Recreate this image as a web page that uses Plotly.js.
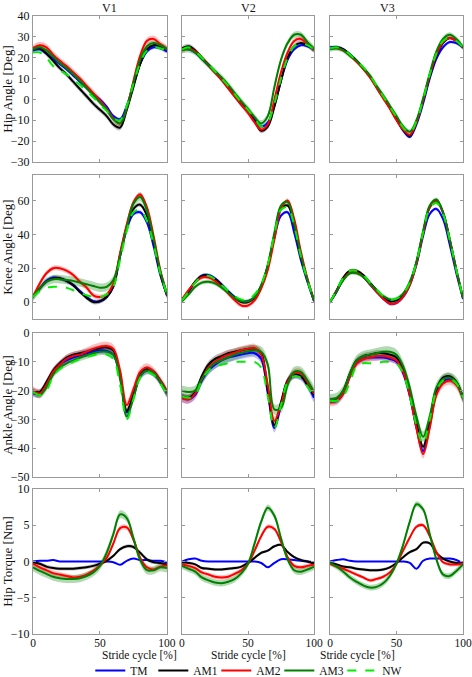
<!DOCTYPE html>
<html><head><meta charset="utf-8">
<script src="https://cdn.plot.ly/plotly-3.0.1.min.js"></script>
<style>html,body{margin:0;padding:0;background:#fff}#chart{width:472px;height:677px}</style>
</head><body><div id="chart"></div>
<script>
const stride = [0,5,10,15,20,25,30,35,40,45,50,55,60,65,70,75,80,85,90,95,100];
const seriesNames = ['TM','AM1','AM2','AM3','NW'];
const conditions = ['V1','V2','V3'];

// Hip angle [Deg]
const hip_V1_TM  = [23.5,24,22,19.5,17,14.5,11.5,8.5,5.5,2.5,0,-3.5,-8,-9.5,-3,7,17,23,25,24.5,23];
const hip_V1_AM1 = [24,24.5,22,18.5,15,12,8.5,5,1.5,-2,-5,-8,-12,-13.5,-5,6,17,24,26,25.5,24];
const hip_V1_AM2 = [24.5,26,25,21.5,18.5,16,13,10,6.5,3,-0.5,-4.5,-9,-11.5,-4,9,21,28,29,26.5,24];
const hip_V1_AM3 = [24,25,23.5,20.5,17.5,15,12,9,5.5,2,-1.5,-5,-9.5,-11.5,-4,8,19,25.5,27,26,24];
const hip_V1_NW  = [22.5,22.5,20,16,14,12,9.5,7,4,1,-2.5,-5.5,-9,-10,-3,7.5,17.5,23.5,25,24.5,23.5];

const hip_V2_TM  = [24,24,22.5,19.5,16.5,13.5,10,6,2,-2,-5.5,-9.5,-13,-11,-3,9,19,24,26,25.5,24];
const hip_V2_AM1 = [24.5,25.5,23.5,20,16.5,13,9.5,5.5,1.5,-2.5,-6,-10.5,-15,-13,-3.5,9,20,25.5,27,26,24];
const hip_V2_AM2 = [23.5,24.5,23,20,16.5,13,9.5,5.5,1.5,-2.5,-6.5,-11,-14.5,-12,0,13,22.5,28,29,26.5,24];
const hip_V2_AM3 = [23.5,24,22.5,19.5,16.5,13.5,10.5,7,3,-1,-4.5,-8.5,-11.5,-8,6,19,27,31,31,27.5,24];
const hip_V2_NW  = [24,25,23,20,17,13.5,10,6.5,2.5,-1.5,-5,-9,-13,-11,-2,10,20,25.5,27,26,24];

const hip_V3_TM  = [25,25,24,21.5,18.5,15,11,6,1,-4,-9.5,-15,-18,-12,-2,10,19.5,25,27.5,27,25];
const hip_V3_AM1 = [24.5,25,24,21.5,18.5,15,11,6,1,-4,-9.5,-14.5,-17.5,-11,-0.5,11,21,27,29.5,28,25];
const hip_V3_AM2 = [24.5,24.5,23.5,21,18,14.5,10.5,5.5,0.5,-4.5,-10,-14.5,-17,-11,-0.5,11.5,21.5,27.5,29.5,28,25];
const hip_V3_AM3 = [24,24.5,23.5,21,18.5,15,11.5,6.5,2,-3,-8,-13,-15.5,-10,0.5,12.5,23,29,31,29,25];
const hip_V3_NW  = [24.5,25,24,21.5,18.5,15.5,11.5,6.5,1.5,-3.5,-8.5,-13.5,-16,-10.5,0,12,22,28,29.5,28,25];

// Knee angle [Deg]
const knee_V1_TM  = [3,8,12.5,14.5,14,12.5,10,6.5,3,0.5,0.5,3,9,27,43,52,53,47,33,16,4];
const knee_V1_AM1 = [3,8,12,14,14,12.5,10,6,2.5,0,0.5,3,9.5,28,44.5,55,57.5,51,36,17,4];
const knee_V1_AM2 = [3,11,17,20,20,18.5,16,12,8.5,4,3,4.5,11,29,46,59,63.5,56,39,19,4.5];
const knee_V1_AM3 = [3,8,12,13.5,13.5,13,12.5,11.5,10.5,9.5,8.5,9,13,27,44,58,62,54,37,18,4.5];
const knee_V1_NW  = [3,6.5,8.5,9,9,8.5,7,5.5,4,3,3,4.5,9,25,42,53,54.5,48,34,17,4.5];

const knee_V2_TM  = [1,6,12,15.5,16,14,10.5,6.5,3,0.5,0.5,3,9.5,21,38,51,53,41,25,12,0.5];
const knee_V2_AM1 = [1.5,6.5,12,15.5,15.5,13.5,10,6,2.5,0,0,2.5,9.5,21.5,39.5,55,57,45,27,13,1];
const knee_V2_AM2 = [1.5,7,11.5,14.5,14.5,12.5,9,5,1,-2,-2,1,8,19,37,55,60,49,30,14,1];
const knee_V2_AM3 = [0.5,4.5,9,11.5,12,11,8.5,5.5,2.5,0.5,0.5,3,10,22,41,57,59,46,28,13,1];
const knee_V2_NW  = [1,6,11.5,15,15.5,13.5,10,6.5,3.5,1.5,1.5,4.5,10.5,22,40,54.5,56,45,27,13,1];

const knee_V3_TM  = [0,6,13.5,17.5,18,15,10.5,6,2,-1,-0.5,3,10,22,39,52,55,49,34,17,2];
const knee_V3_AM1 = [0,7,14.5,18.5,18.5,16,11.5,7,3,0.5,1,4,11,23.5,41,56,60,53,37,19,2.5];
const knee_V3_AM2 = [0,6.5,13.5,17.5,17.5,15,10.5,6,2,-1,-0.5,3,10,22.5,40.5,56,59.5,52.5,37,19,2.5];
const knee_V3_AM3 = [0,6.5,13,17,17,15,11,7,3.5,1.5,2,5,12,24,42,57,60.5,53,37,19,2.5];
const knee_V3_NW  = [0,7,14.5,18.5,18.5,16,11.5,7.5,3.5,1.5,2,5,11.5,23.5,41,55.5,58.5,52,37,19,2.5];

// Ankle angle [Deg]
const ankle_V1_TM  = [-21,-21,-18,-13.5,-11,-9.5,-8.5,-7.8,-7,-6.5,-6,-6.2,-7.5,-15,-27.5,-22,-15,-13,-14,-17,-21];
const ankle_V1_AM1 = [-20,-20.5,-17,-13,-10.5,-8.5,-7.5,-7,-6.5,-5.8,-5.2,-5,-6,-15,-27,-21,-14.5,-12.5,-13.5,-16.5,-20.5];
const ankle_V1_AM2 = [-20,-21,-18,-13.5,-11,-9,-8,-7.5,-6.5,-5.5,-4.8,-4.5,-5.5,-13,-25,-19.5,-13.5,-12,-13.5,-16.5,-20.5];
const ankle_V1_AM3 = [-20.5,-21.5,-19,-14.5,-12,-10.5,-9.5,-8.5,-7.8,-7,-6.5,-6.5,-7.5,-16,-29,-22.5,-15,-13,-14,-17,-21];
const ankle_V1_NW  = [-20.5,-21.5,-20,-15,-12.5,-11,-10,-9,-8.3,-7.7,-7.3,-7.5,-9,-18,-30,-23,-15.5,-13.5,-14.5,-17.5,-21.5];

const ankle_V2_TM  = [-22.5,-23,-21.5,-16.5,-13,-11,-9.5,-8.5,-8,-7.5,-7,-7,-9,-21,-33,-25,-17,-14.5,-15,-18,-22.5];
const ankle_V2_AM1 = [-22,-22.5,-20.5,-15,-11,-9,-8,-7,-6.5,-6,-5.5,-5.5,-7,-20,-32,-24,-16.5,-14.5,-15,-18,-21.5];
const ankle_V2_AM2 = [-22.5,-23,-21,-16,-12,-10,-8.5,-7.5,-6.8,-6,-5.5,-5.2,-7.5,-18,-30.5,-25,-17,-14,-14,-17,-21];
const ankle_V2_AM3 = [-20,-20.5,-20,-16,-12.5,-10.5,-9.5,-8.5,-7.5,-6.8,-6.3,-6,-6.5,-11,-26.5,-26,-18,-13.5,-13.5,-16.5,-20.5];
const ankle_V2_NW  = [-22,-22.5,-21.5,-16.5,-13,-11.5,-11,-10.5,-10,-10,-10,-10,-12,-22,-33,-25,-17,-15,-15.5,-18.5,-22];

const ankle_V3_TM  = [-23.5,-23.5,-21,-15,-10.5,-9,-8.5,-8.5,-8.5,-9,-10,-14,-22,-33,-41,-32,-21,-17,-16,-17.5,-22.5];
const ankle_V3_AM1 = [-23.5,-23,-20,-14,-9.5,-8,-7.5,-7,-7,-7.5,-8.5,-12.5,-20,-31,-39.5,-30,-19.5,-15.5,-15,-17,-22.5];
const ankle_V3_AM2 = [-24,-23.5,-21,-15,-10.5,-9,-8.5,-8,-8,-8.5,-9.5,-13.5,-21.5,-33,-42,-33,-21.5,-17.5,-16.5,-18,-22.5];
const ankle_V3_AM3 = [-23,-22.5,-20,-14,-9.5,-8,-7.5,-7,-6.5,-6.5,-7.5,-11.5,-19,-29,-36,-29,-19,-16,-15.5,-17,-22.5];
const ankle_V3_NW  = [-23.5,-23.5,-22,-17,-11.5,-10.5,-10.5,-10.5,-10,-10,-10.5,-14,-22,-32,-38.5,-30,-20,-16.5,-16,-17.5,-22.5];

// Hip torque [Nm] (no NW: device not worn)
const torque_V1_TM  = [0,0.1,0.1,0.2,0,0,0,0,0,0,0,0,-0.1,-0.45,0.1,0.4,0.2,0.2,0.1,0.1,-0.1];
const torque_V1_AM1 = [-0.1,-0.3,-0.7,-0.9,-1,-1,-1,-0.9,-0.8,-0.6,-0.3,0.1,0.8,1.7,2.1,2,1.2,0.3,-0.1,-0.2,-0.4];
const torque_V1_AM2 = [-0.3,-0.8,-1.2,-1.6,-1.8,-2,-2.2,-2.1,-1.8,-1.3,-0.5,0.5,2.5,4.6,4.7,3,0.5,-0.8,-1.1,-0.7,-0.5];
const torque_V1_AM3 = [-0.8,-1.3,-1.7,-2.1,-2.3,-2.4,-2.4,-2.3,-2,-1.5,-0.6,1.2,3.8,6.5,6,3.2,0.2,-1.2,-1.2,-0.8,-0.9];

const torque_V2_TM  = [0,0.3,0.4,0.1,0,0,0,0,0,0,0,0,-0.2,-0.8,-0.2,0.3,0.3,0.2,0.1,0,-0.1];
const torque_V2_AM1 = [-0.1,-0.2,-0.4,-0.9,-1,-1.1,-1.1,-1,-0.9,-0.7,-0.2,0.5,1.2,1.5,2.1,2.3,1.3,0.6,0.2,0,-0.3];
const torque_V2_AM2 = [-0.4,-0.6,-0.9,-1.5,-1.8,-2.1,-2.2,-2.1,-1.7,-1.2,-0.3,1.5,3.5,4.8,4.5,2.7,0.6,-0.6,-0.8,-0.6,-0.4];
const torque_V2_AM3 = [-0.6,-1,-1.4,-2.2,-2.6,-2.9,-3,-2.8,-2.4,-1.6,-0.3,2.5,5.5,7.4,6.3,3.2,0.3,-1.2,-1.4,-1.1,-0.7];

const torque_V3_TM  = [0,0.2,0.3,0.1,0,0,0,0,0,0,0,0,-0.2,-1,0.1,0.4,0.4,0.4,0.4,0.2,-0.3];
const torque_V3_AM1 = [-0.2,-0.4,-0.7,-0.8,-1,-1.1,-1.2,-1.2,-1.1,-0.8,-0.2,0.6,1.3,1.7,2.6,2.5,1.2,0.4,0,-0.2,-0.3];
const torque_V3_AM2 = [-0.3,-0.7,-1,-1.4,-1.8,-2.2,-2.6,-2.4,-2.1,-1.5,-0.3,1.5,3.3,4.8,5,3.5,1.3,-0.1,-0.4,-0.4,-0.3];
const torque_V3_AM3 = [-0.2,-0.7,-1.4,-2.2,-2.8,-3.3,-3.6,-3.5,-3,-2,-0.3,2.3,5.5,7.9,7.2,3.8,0.3,-1.8,-2,-1.3,-0.4];

// band half-widths (TM, AM1, AM2, AM3, NW) per panel
const hip_V1_sd = [0.9,1.3,1.6,1.2,0], hip_V2_sd = [0.8,1.2,1.2,1.5,0], hip_V3_sd = [0.8,0.8,0.8,1.2,0];
const knee_V1_sd = [1.2,1.3,1.5,2.5,0], knee_V2_sd = [1,1,1.2,1.2,0], knee_V3_sd = [1,1,1,1.2,0];
const ankle_V1_sd = [1.3,1,1.5,1.2,0], ankle_V2_sd = [1.5,1.2,1.5,1.8,0], ankle_V3_sd = [1.1,1,1.5,1.8,0];
const torque_V1_sd = [0.05,0.25,0.35,0.55,0], torque_V2_sd = [0.05,0.2,0.3,0.45,0], torque_V3_sd = [0.05,0.2,0.25,0.4,0];

const rowTitles = ['Hip Angle [Deg]','Knee Angle [Deg]','Ankle Angle [Deg]','Hip Torque [Nm]'];
const rowRanges = [[-30,40],[-10,75],[-50,0],[-10,10]];
const rowTicks = [[-30,-20,-10,0,10,20,30,40],[0,20,40,60],[-50,-40,-30,-20,-10,0],[-10,-5,0,5,10]];
const xTicks = [0,50,100];
const xTitle = 'Stride cycle [%]';

const panels = [
  [[hip_V1_TM,hip_V1_AM1,hip_V1_AM2,hip_V1_AM3,hip_V1_NW,hip_V1_sd],
   [hip_V2_TM,hip_V2_AM1,hip_V2_AM2,hip_V2_AM3,hip_V2_NW,hip_V2_sd],
   [hip_V3_TM,hip_V3_AM1,hip_V3_AM2,hip_V3_AM3,hip_V3_NW,hip_V3_sd]],
  [[knee_V1_TM,knee_V1_AM1,knee_V1_AM2,knee_V1_AM3,knee_V1_NW,knee_V1_sd],
   [knee_V2_TM,knee_V2_AM1,knee_V2_AM2,knee_V2_AM3,knee_V2_NW,knee_V2_sd],
   [knee_V3_TM,knee_V3_AM1,knee_V3_AM2,knee_V3_AM3,knee_V3_NW,knee_V3_sd]],
  [[ankle_V1_TM,ankle_V1_AM1,ankle_V1_AM2,ankle_V1_AM3,ankle_V1_NW,ankle_V1_sd],
   [ankle_V2_TM,ankle_V2_AM1,ankle_V2_AM2,ankle_V2_AM3,ankle_V2_NW,ankle_V2_sd],
   [ankle_V3_TM,ankle_V3_AM1,ankle_V3_AM2,ankle_V3_AM3,ankle_V3_NW,ankle_V3_sd]],
  [[torque_V1_TM,torque_V1_AM1,torque_V1_AM2,torque_V1_AM3,null,torque_V1_sd],
   [torque_V2_TM,torque_V2_AM1,torque_V2_AM2,torque_V2_AM3,null,torque_V2_sd],
   [torque_V3_TM,torque_V3_AM1,torque_V3_AM2,torque_V3_AM3,null,torque_V3_sd]]
];

const lineColors = ['#0000ff','#000000','#ff0000','#008000','#00ee00'];
const bandColors = ['rgba(0,0,255,0.25)','rgba(0,0,0,0.25)','rgba(255,0,0,0.25)','rgba(0,128,0,0.3)','rgba(0,255,0,0.2)'];
const lineDash = ['solid','solid','solid','solid','dash'];

const colDomains = [[0,0.3116],[0.3465,0.6535],[0.6907,1]];
const rowDomains = [[0.7638,1],[0.5097,0.7427],[0.254,0.487],[0,0.2346]];
const FONT = 'Liberation Serif, Times New Roman, serif';

const traces = [];
const layout = {
  width:472, height:677, paper_bgcolor:'#fff', plot_bgcolor:'#fff',
  margin:{l:33,r:9,t:16,b:43},
  font:{family:FONT, size:12, color:'#111'},
  showlegend:true,
  legend:{orientation:'h', x:0.525, xref:'container', xanchor:'center', y:6.5/677, yref:'container', yanchor:'middle',
          font:{family:FONT,size:11.5,color:'#111'}, entrywidth:18, entrywidthmode:'pixels',
          tracegroupgap:0, bgcolor:'rgba(0,0,0,0)'},
  annotations:[]
};

for (let r=0;r<4;r++){
  for (let c=0;c<3;c++){
    const n = r*3+c+1;
    const xa = 'x'+n, ya = 'y'+n;
    const pd = panels[r][c];
    const sd = pd[5];
    for (let s=0;s<5;s++){
      const m = pd[s];
      if (!m || !sd[s]) continue;
      const up = m.map(v=>v+sd[s]);
      const lo = m.map(v=>v-sd[s]);
      traces.push({x:stride.concat(stride.slice().reverse()), y:up.concat(lo.slice().reverse()),
        xaxis:xa, yaxis:ya, type:'scatter', mode:'lines', fill:'toself', fillcolor:bandColors[s],
        line:{width:0, shape:'spline', smoothing:1}, hoverinfo:'skip', showlegend:false});
    }
    for (let s=0;s<5;s++){
      const m = pd[s];
      if (!m) continue;
      traces.push({x:stride, y:m, xaxis:xa, yaxis:ya, type:'scatter', mode:'lines', name:seriesNames[s],
        line:{color:lineColors[s], width:2, dash:lineDash[s], shape:'spline', smoothing:1},
        showlegend:(r===0 && c===0), legendgroup:seriesNames[s]});
    }
    const bottom = (r===3);
    layout['xaxis'+n] = {domain:colDomains[c], anchor:ya, range:[0,100], tickvals:xTicks,
      showticklabels:bottom, ticks:'inside', ticklen:3, tickcolor:'#999', showline:true, linecolor:'#999',
      linewidth:1, mirror:'ticks', showgrid:false, zeroline:false, ticklabelstandoff:-2,
      tickfont:{family:FONT,size:11.5,color:'#111'}, title:{text:''}};
    layout['yaxis'+n] = {domain:rowDomains[r], anchor:xa, range:rowRanges[r], tickvals:rowTicks[r],
      showticklabels:(c===0), ticks:'inside', ticklen:3, tickcolor:'#999', showline:true, linecolor:'#999',
      linewidth:1, mirror:'ticks', showgrid:false, zeroline:false, tickfont:{family:FONT,size:12,color:'#111'},
      title: (c===0) ? {text:rowTitles[r], font:{family:FONT,size:13,color:'#111'}, standoff:4} : {text:''}};
  }
}
for (let c=0;c<3;c++){
  const xc = (colDomains[c][0]+colDomains[c][1])/2;
  layout.annotations.push({text:conditions[c], xref:'paper', yref:'paper',
    x:xc, y:1+8/618, yanchor:'middle', showarrow:false, font:{family:FONT,size:12,color:'#111'}});
  layout.annotations.push({text:xTitle, xref:'paper', yref:'paper',
    x:xc, y:-21.5/618, yanchor:'middle', showarrow:false, font:{family:FONT,size:11.5,color:'#111'}});
}
Plotly.newPlot('chart', traces, layout, {displayModeBar:false, staticPlot:true});
</script>
</body></html>
